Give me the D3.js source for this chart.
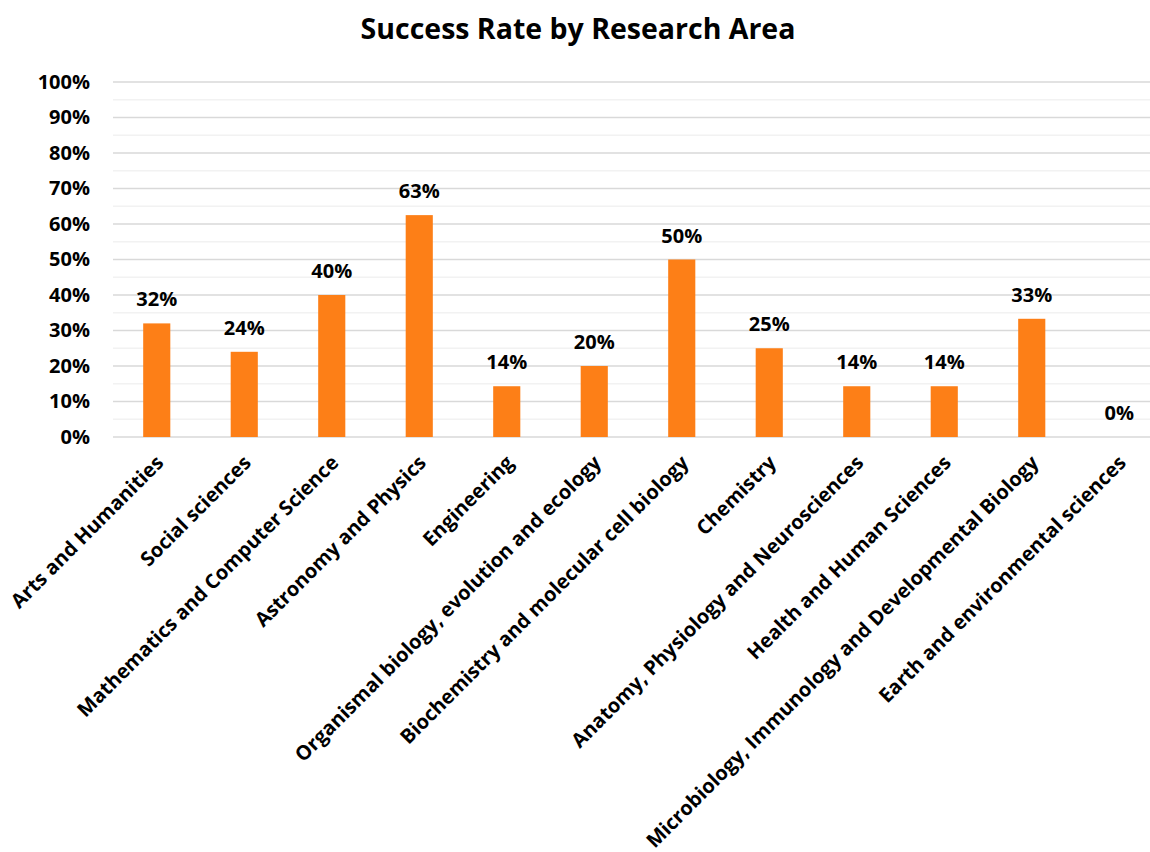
<!DOCTYPE html>
<html><head><meta charset="utf-8">
<script src="https://cdn.jsdelivr.net/npm/d3@7"></script>
<style>body{margin:0;background:#fff;} svg{display:block;font-family:"Open Sans",sans-serif;}</style>
</head><body><svg id="c" width="1150" height="852"></svg>
<script>
const title = "Success Rate by Research Area";
const categories = ["Arts and Humanities","Social sciences","Mathematics and Computer Science","Astronomy and Physics","Engineering","Organismal biology, evolution and ecology","Biochemistry and molecular cell biology","Chemistry","Anatomy, Physiology and Neurosciences","Health and Human Sciences","Microbiology, Immunology and Developmental Biology","Earth and environmental sciences"];
const values = [0.32,0.24,0.40,0.625,0.143,0.20,0.50,0.25,0.143,0.143,0.333,0];
const majorTicks = [0,0.1,0.2,0.3,0.4,0.5,0.6,0.7,0.8,0.9,1.0];
const minorTicks = [0.05,0.15,0.25,0.35,0.45,0.55,0.65,0.75,0.85,0.95];

const svg = d3.select("#c");
const x = d3.scaleBand().domain(categories).range([113,1163]).paddingInner(0.69).paddingOuter(0.345);
const y = d3.scaleLinear().domain([0,1]).range([437,82]);
const fmt = d3.format(".0%");

svg.append("text").attr("x",578).attr("y",39).attr("text-anchor","middle")
  .attr("font-size",28.5).attr("font-weight",700).attr("fill","#000").text(title);

svg.append("g").selectAll("line").data(minorTicks).join("line")
  .attr("x1",113).attr("x2",1150).attr("y1",d=>y(d)).attr("y2",d=>y(d))
  .attr("stroke","#f2f2f2").attr("stroke-width",1.5);
svg.append("g").selectAll("line").data(majorTicks).join("line")
  .attr("x1",113).attr("x2",1150).attr("y1",d=>y(d)).attr("y2",d=>y(d))
  .attr("stroke","#d9d9d9").attr("stroke-width",1.5);

const yAxis = d3.axisLeft(y).tickValues(majorTicks).tickFormat(fmt).tickSize(0).tickPadding(0);
const gy = svg.append("g").attr("transform","translate(90,0)").call(yAxis);
gy.select(".domain").remove();
gy.selectAll("text").attr("font-size",20).attr("font-weight",700).attr("fill","#000").attr("font-family","Open Sans");

svg.append("g").selectAll("rect").data(values).join("rect")
  .attr("x",(d,i)=>x(categories[i])).attr("width",x.bandwidth())
  .attr("y",d=>y(d)).attr("height",d=>y(0)-y(d)).attr("fill","#fd7f17");

svg.append("g").selectAll("text").data(values).join("text")
  .attr("x",(d,i)=>x(categories[i])+x.bandwidth()/2).attr("y",d=>y(d)-17)
  .attr("text-anchor","middle").attr("font-size",20).attr("font-weight",700).attr("fill","#000")
  .text(d=>fmt(d));

const xAxis = d3.axisBottom(x).tickSize(0).tickPadding(0);
const gx = svg.append("g").attr("transform","translate(0,437)").call(xAxis);
gx.select(".domain").remove();
gx.selectAll("text").attr("font-size",20).attr("font-weight",700).attr("fill","#000")
  .attr("font-family","Open Sans")
  .attr("text-anchor","end").attr("dy",null).attr("y",0)
  .attr("transform","translate(8,27) rotate(-45)");
</script></body></html>
